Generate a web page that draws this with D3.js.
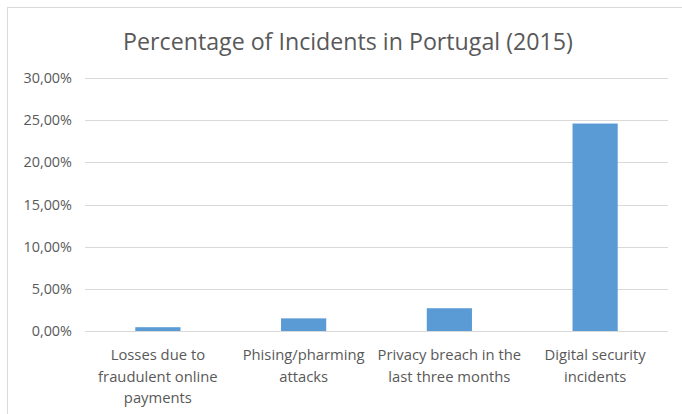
<!DOCTYPE html>
<html>
<head>
<meta charset="utf-8">
<script src="https://cdn.jsdelivr.net/npm/d3@7"></script>
<style>
  body { margin: 0; background: #fff; }
  svg text { font-family: "Open Sans", "Noto Sans", sans-serif; fill: #595959; }
</style>
</head>
<body>
<script>
// values (percent)
var categories = [
    ["Losses due to", "fraudulent online", "payments"],
    ["Phising/pharming", "attacks"],
    ["Privacy breach in the", "last three months"],
    ["Digital security", "incidents"]
];
var values = [0.45, 1.5, 2.7, 24.6];
var yTicks = [0, 5, 10, 15, 20, 25, 30];
var title = "Percentage of Incidents in Portugal (2015)";

var W = 682, H = 414;
var margin = {top: 78, right: 14, bottom: 83, left: 85};
var width = W - margin.left - margin.right,
    height = H - margin.top - margin.bottom;

var svg = d3.select("body").append("svg")
    .attr("width", W).attr("height", H);

// chart border (only top and left are inside the picture)
svg.append("rect")
    .attr("x", 7.5).attr("y", 7.5)
    .attr("width", W + 10).attr("height", H + 10)
    .attr("fill", "none")
    .attr("stroke", "#d9d9d9");

svg.append("text")
    .attr("x", 348).attr("y", 50)
    .attr("text-anchor", "middle")
    .style("font-size", "23.2px")
    .text(title);

var main = svg.append("g")
    .attr("transform", "translate(" + margin.left + "," + margin.top + ")");

var x = d3.scaleBand()
    .domain(d3.range(categories.length))
    .range([0, width]);

var y = d3.scaleLinear()
    .domain([0, 30])
    .range([height, 0]);

// gridlines
main.append("g")
    .selectAll("line")
    .data(yTicks)
    .enter().append("line")
    .attr("x1", 0).attr("x2", width)
    .attr("y1", function (d) { return Math.round(y(d)) + 0.5; })
    .attr("y2", function (d) { return Math.round(y(d)) + 0.5; })
    .attr("stroke", "#d9d9d9");

// y axis labels
var yAxis = d3.axisLeft(y)
    .tickValues(yTicks)
    .tickSize(0)
    .tickPadding(13)
    .tickFormat(function (d) { return d3.format(".2f")(d).replace(".", ",") + "%"; });

main.append("g")
    .call(yAxis)
    .call(function (g) { g.select(".domain").remove(); })
    .selectAll("text")
    .style("font-size", "14.4px")
    .style("font-family", "'Open Sans', sans-serif")
    .style("fill", "#595959");

// bars
var barW = x.bandwidth() * 0.31;
main.append("g")
    .selectAll("rect")
    .data(values)
    .enter().append("rect")
    .attr("x", function (d, i) { return x(i) + (x.bandwidth() - barW) / 2; })
    .attr("y", function (d) { return y(d); })
    .attr("width", barW)
    .attr("height", function (d) { return height - y(d); })
    .attr("fill", "#5b9bd5");

// category labels
var lab = main.append("g")
    .selectAll("text")
    .data(categories)
    .enter().append("text")
    .attr("text-anchor", "middle")
    .attr("transform", function (d, i) {
        return "translate(" + (x(i) + x.bandwidth() / 2) + "," + (height + 29) + ")";
    })
    .style("font-size", "14.8px");

lab.selectAll("tspan")
    .data(function (d) { return d; })
    .enter().append("tspan")
    .attr("x", 0)
    .attr("dy", function (d, i) { return i === 0 ? 0 : 21.5; })
    .text(function (d) { return d; });
</script>
</body>
</html>
